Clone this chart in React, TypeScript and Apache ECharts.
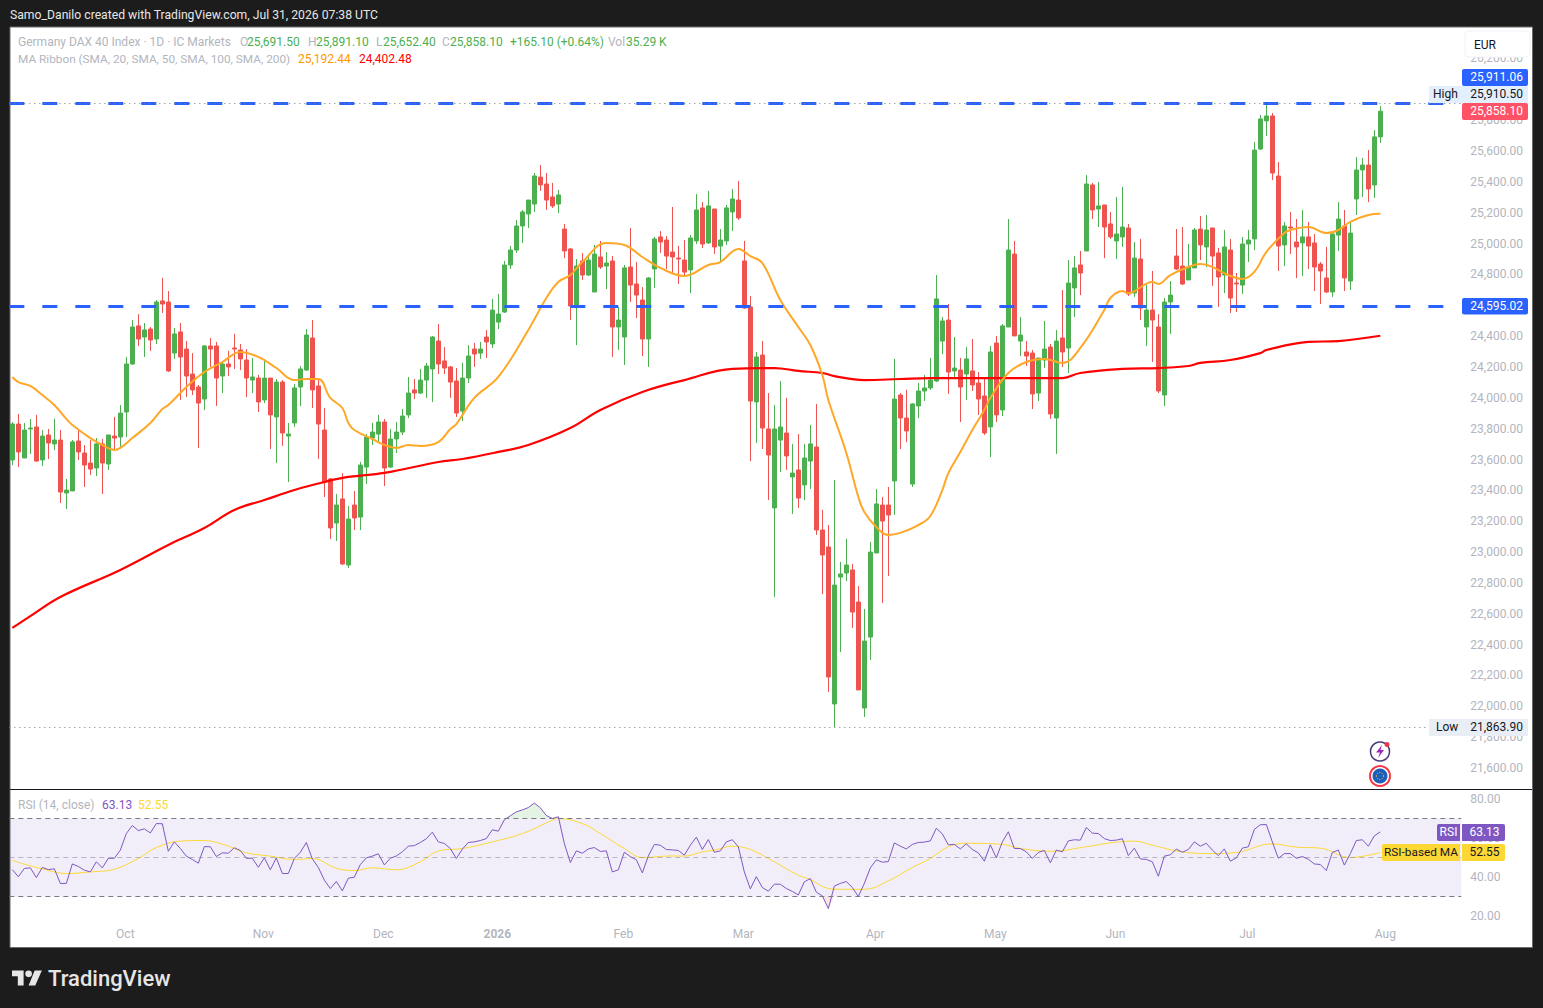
import React, { useEffect, useRef } from "react";
import * as echarts from "echarts";

const opens = [
  23597,23830,23610,23798,23811,23597,23759,23701,23726,23383,
  23396,23720,23642,23577,23545,23701,23571,23752,23746,23908,
  24219,24466,24394,24446,24381,24628,24621,24290,24427,24316,
  24154,24070,23992,24336,24336,24141,24219,24323,24310,24245,
  24115,24128,23986,24128,23876,24102,23752,23837,24070,24180,
  24388,24077,23791,23474,23188,23344,22916,23305,23227,23551,
  23739,23765,23843,23551,23733,23778,23889,24051,24031,24115,
  24187,24368,24239,24200,24109,23914,24128,24316,24290,24394,
  24349,24491,24556,24861,24958,25114,25192,25256,25431,25386,
  25302,25256,25094,24965,24595,24887,24796,24686,24913,24854,
  24887,24459,24394,24848,24738,24634,24381,24835,25043,25023,
  24945,24906,24893,24829,25017,25231,25004,25224,24984,25017,
  25205,25282,24887,24589,23973,24277,23798,23286,23726,23772,
  23487,23532,23435,23590,23681,23143,23033,22015,22838,22864,
  22884,22676,21989,22449,22994,23305,23305,23461,24018,23869,
  23441,23947,24044,24064,24109,24368,24504,24174,24180,24154,
  24174,24096,24012,23811,24355,23921,24459,24932,24368,24297,
  24290,24031,24245,24329,23869,24388,24323,24712,24861,24952,
  25380,25224,25250,25127,25017,25043,25101,24679,24900,24459,
  24569,24459,24018,24621,24919,24854,24764,24842,25094,24978,
  25101,24939,24796,24958,24744,24731,24997,25030,25613,25795,
  25827,25438,24991,25107,25010,25004,25043,25004,24867,24777,
  24686,25055,25114,24757,25289,25477,25509,25380,25691.5,
];
const closes = [
  23830,23649,23791,23804,23590,23752,23707,23726,23389,23402,
  23714,23649,23564,23538,23701,23577,23759,23739,23901,24219,
  24459,24381,24440,24375,24621,24608,24174,24414,24265,24141,
  24051,23966,24336,24316,24128,24219,24200,24316,24252,24128,
  24135,23973,24128,23889,24102,23772,23765,24064,24187,24407,
  24051,23830,23454,23156,23305,22923,23214,23221,23564,23746,
  23778,23843,23545,23733,23778,23882,24031,24031,24115,24206,
  24394,24219,24193,24102,23901,24128,24271,24284,24316,24362,
  24569,24543,24861,24958,25114,25205,25282,25438,25380,25282,
  25244,25315,24952,24595,24854,24796,24893,24932,24848,24874,
  24459,24504,24842,24731,24666,24381,24777,25030,25010,24919,
  24913,24900,24815,25036,25218,24997,25244,24978,25023,25231,
  25289,25166,24582,23979,24265,23804,23629,23798,23811,23623,
  23512,23350,23610,23701,23143,22981,22190,22786,22858,22916,
  22611,22106,22423,23000,23312,23201,23240,23992,23869,23785,
  23960,24044,24064,24115,24641,24498,24167,24193,24070,24252,
  24083,23992,23772,24297,23889,24466,24958,24401,24407,24271,
  24025,24258,24316,23895,24368,24297,24744,24842,24809,25386,
  25218,25244,25107,25043,25062,25107,24673,24906,24582,24569,
  24504,24044,24621,24666,24835,24738,24848,25088,24991,25088,
  24919,24783,24978,24647,24738,24997,25023,25606,25808,25827,
  25457,24984,25114,25101,24978,25043,24984,24848,24822,24686,
  25062,25159,24777,25068,25477,25509,25354,25691.5,25858.1,
];
const highs = [
  23843,23895,23837,23863,23889,23791,23798,23863,23791,23474,
  23726,23791,23694,23726,23739,23733,23759,23876,23953,24265,
  24504,24543,24485,24459,24634,24777,24692,24453,24485,24368,
  24290,24083,24342,24388,24362,24232,24304,24414,24349,24316,
  24258,24148,24252,24128,24122,24115,23837,24089,24206,24446,
  24504,24122,23934,23480,23376,23512,23299,23396,23584,23765,
  23837,23889,23863,23798,23843,23927,24135,24122,24187,24226,
  24401,24478,24329,24206,24193,24226,24342,24355,24362,24440,
  24641,24673,24887,24984,25153,25218,25282,25457,25509,25457,
  25393,25347,25127,24971,24900,24939,24932,24991,25017,24945,
  24919,24589,24861,25101,24880,24718,24783,25043,25081,25049,
  25237,24984,25023,25055,25321,25269,25341,25224,25094,25250,
  25354,25406,25017,24660,24297,24368,24031,23953,24109,23999,
  23701,23765,23701,23824,23960,23273,23175,23467,22936,23085,
  22923,22780,22631,23065,23409,23357,23422,24252,24031,24051,
  23966,24096,24148,24258,24796,24524,24608,24394,24258,24329,
  24381,24167,24128,24336,24401,24478,25159,25017,24524,24368,
  24310,24258,24498,24349,24440,24699,24893,24919,24952,25444,
  25393,25399,25250,25205,25302,25367,25127,25010,25030,24744,
  24822,24543,24647,24757,25094,25107,24997,25101,25179,25185,
  25101,24971,25088,25030,24809,25043,25088,25658,25833,25910.5,
  25846,25529,25140,25205,25159,25218,25140,25062,24880,24978,
  25068,25269,25218,25140,25561,25555,25606,25736,25891.1,
];
const lows = [
  23564,23551,23610,23636,23584,23558,23603,23662,23318,23279,
  23396,23597,23422,23500,23493,23376,23532,23662,23675,23746,
  24213,24336,24265,24304,24349,24550,24167,24252,23986,24005,
  24018,23675,23921,24200,23947,24031,24141,24187,24180,24005,
  24031,23908,23966,23668,23577,23688,23454,23811,23947,24174,
  23934,23603,23357,23085,23072,22916,22897,23143,23143,23441,
  23694,23713,23428,23545,23642,23759,23869,23992,24025,23999,
  23973,24154,24154,23999,23876,23850,24096,24200,24252,24258,
  24323,24446,24550,24835,24939,25004,25101,25205,25341,25218,
  25231,25198,24906,24504,24342,24764,24790,24686,24835,24705,
  24265,24310,24213,24621,24517,24271,24200,24712,24939,24835,
  24809,24738,24790,24679,24997,24971,24997,24932,24874,24991,
  25081,25153,24576,23590,23707,23668,23337,22709,23519,23532,
  23247,23286,23337,23409,23111,22728,22093,21863.9,22352,22812,
  22508,22106,21931,22300,22994,22670,22845,23240,23668,23713,
  23422,23869,23979,24051,24102,24284,24025,24128,23843,23986,
  24044,23889,23759,23616,23843,23882,24459,24401,24271,24206,
  23927,23979,24193,23863,23636,24200,24161,24524,24666,24952,
  25159,25107,24906,25030,24900,24978,24660,24654,24504,24336,
  24232,24031,23947,24414,24829,24731,24764,24842,24893,24848,
  24725,24589,24679,24550,24556,24673,24880,24958,25606,25697,
  25412,24822,24854,24932,24777,24790,24835,24692,24608,24679,
  24654,24952,24692,24699,25185,25302,25269,25295,25652.4,
];
const rsiValues = [
  43.8,40.1,44.4,44.7,39.7,44.9,43.8,44.2,36.7,36.7,
  46.7,45.4,43.5,42.6,47.8,44.7,49.6,49.6,53.8,62.3,
  66.4,63.8,64.7,62.6,67.4,67.3,53.2,58.0,54.6,50.7,
  49.0,47.1,55.6,55.5,50.5,52.4,52.2,55.0,53.6,49.6,
  49.6,45.0,49.8,43.7,49.8,41.8,41.8,49.5,52.7,57.7,
  49.3,44.9,38.4,34.1,37.7,32.9,39.4,39.9,46.4,49.8,
  50.7,51.9,46.2,49.6,50.8,52.9,55.8,56.1,57.7,59.6,
  63.0,58.0,57.2,54.6,49.5,54.3,57.7,58.0,58.7,59.7,
  64.2,63.5,69.3,71.4,73.4,74.4,75.6,77.9,75.5,71.5,
  70,70.9,57.2,47.4,53.4,52.2,54.4,55.1,53.1,53.4,
  42.6,43.7,52.7,50.5,48.8,42.1,50.8,56.7,56.3,54.1,
  53.9,53.6,51.2,56.3,60.4,
  54.1,59.2,52.7,53.4,58.0,59.1,55.5,42.6,33.9,40.2,
  34.6,32.7,36.3,36.3,34.1,32.6,30.8,37.5,39.2,32.2,
  30.3,23.8,35.3,36.7,37.7,34.6,30,36.7,44.7,48.8,
  47.6,47.9,57.5,55.8,54.4,56.7,57.7,57.9,58.5,65,
  62.1,56.5,56.7,54.4,57,54.1,52.4,48.1,56.5,49.8,
  58,63.2,54.6,54.6,52.9,49.5,52.6,53.6,47.3,53.8,
  52.9,58.5,59.1,58.9,65.4,62.5,62.3,59.7,58.7,58.9,
  59.6,51,54.8,49.3,49,47.8,40.4,50.7,51.4,54.3,
  52.7,54.1,58,55.8,57.3,53.8,51,54.4,48.1,49.8,
  54.8,55.5,64.4,66.8,66.9,58,49.6,52,52,49.6,
  50.5,49.1,46.7,46.4,43.3,52.6,53.8,46.1,52,58.7,
  59.1,55.8,61.1,63.13,
];
// [bar index, value] read at the line's turning points
const sma20Points = [
  [0,24135],[1,24102],[3,24077],[5,24018],[7,23953],[9,23863],[10,23824],[13,23739],[15,23694],[17,23662],
  [18,23675],[20,23739],[23,23837],[25,23927],[26,23953],[28,24031],[29,24070],[32,24167],[35,24232],[38,24297],
  [41,24265],[44,24193],[47,24115],[49,24122],[51,24122],[53,23999],[55,23934],[56,23837],[57,23791],[60,23733],
  [62,23694],[64,23675],[66,23694],[68,23688],[71,23713],[73,23798],[74,23830],[77,23999],[81,24135],[86,24440],
  [89,24647],[91,24751],[93,24796],[95,24880],[99,25004],[102,24991],[105,24913],[108,24842],[112,24790],[116,24861],
  [118,24880],[121,24965],[123,24919],[125,24874],[128,24634],[131,24459],[133,24342],[135,24148],[136,23986],[139,23642],
  [141,23357],[142,23260],[144,23162],[146,23111],[148,23124],[151,23175],[153,23234],[155,23402],[156,23512],[158,23649],
  [160,23791],[162,23921],[163,23999],[166,24161],[169,24232],[172,24252],[175,24226],[178,24323],[182,24569],[183,24647],
  [185,24692],[186,24679],[190,24751],[191,24738],[193,24796],[196,24848],[198,24867],[203,24790],[205,24770],[207,24816],
  [209,24945],[212,25068],[213,25088],[216,25107],[219,25068],[221,25088],[223,25140],[226,25185],[228,25192.44],
];
const sma200Points = [
  [0,22508],[3,22585],[8,22709],[18,22884],[26,23046],[32,23156],[37,23273],[42,23337],[47,23402],[52,23454],
  [56,23487],[62,23513],[71,23584],[75,23603],[81,23649],[86,23694],[93,23804],[98,23921],[105,24038],[112,24115],
  [120,24187],[127,24193],[131,24174],[135,24161],[137,24141],[142,24115],[148,24122],[153,24128],[164,24128],[175,24128],
  [178,24161],[185,24187],[191,24193],[196,24206],[198,24226],[203,24245],[208,24290],[209,24310],[216,24362],[221,24368],
  [228,24402.48],
];
const rsiMaPoints = [
  [0,48.6],[2,46.6],[5,44.2],[9,41.8],[13,42.6],[17,44.0],[21,49.5],[24,55.1],[28,58.4],[32,58.7],
  [36,55.8],[39,52.4],[43,50.7],[47,49],[50,49.5],[54,44.5],[57,43.3],[60,44.7],[64,43.7],[68,47.8],
  [71,53.4],[75,54.6],[80,58],[85,62.3],[90,69.1],[91,70],[95,67.4],[98,62.3],[102,54.6],[105,50],
  [110,50.8],[112,50.7],[115,52.9],[117,53.8],[120,55.8],[123,54.1],[126,49.5],[131,40.9],[133,38.7],[136,34.1],
  [138,33.7],[142,33.7],[146,38],[150,44.9],[153,49.5],[156,55.5],[159,57.3],[165,56.7],[168,54.6],[173,53.2],
  [179,55.5],[183,57.5],[187,58.4],[190,56.3],[195,52.9],[200,52],[204,52.6],[210,57],[214,55.3],[218,54.8],
  [223,50],[228,52.55],
];
const monthTicks: Record<number, string> = {
  19: "Oct", 42: "Nov", 62: "Dec", 81: "2026", 102: "Feb", 122: "Mar",
  144: "Apr", 164: "May", 184: "Jun", 206: "Jul", 229: "Aug",
};
const barSlots = 242;
const categories = Array.from({ length: barSlots }, (_, i) => String(i));
const highLine = 25910.5;
const lowLine = 21863.9;
const blueLines = [25911.06, 24595.02];

const FONT = "Roboto, sans-serif";
const GREY = "#b2b5be";
const GREEN = "#4caf50";
const RED = "#ef5350";
const ORANGE = "#ff9800";
const PURPLE = "#7e57c2";
const YELLOW = "#fdd835";

function txt(text: string, x: number, y: number, fill: string, extra: any = {}) {
  return {
    type: "text", x, y, z: 101, silent: true,
    style: { text, fill, font: `${extra.weight || "normal"} ${extra.size || 12}px ${FONT}`, align: extra.align || "left", verticalAlign: "middle" },
  };
}
function box(x: number, y: number, w: number, h: number, fill: string, r: number | number[] = 0, z = 100) {
  return { type: "rect", z, silent: true, shape: { x, y, width: w, height: h, r }, style: { fill } };
}

function buildOption() {
  const candle = opens.map((o, i) => [o, closes[i], lows[i], highs[i]]);
  const over = rsiValues.map((v) => Math.max(v, 70));
  const under = rsiValues.map((v) => Math.min(v, 30));
  const graphic: any[] = [
    // page surfaces
    { type: "rect", z: -2, silent: true, shape: { x: 10, y: 27, width: 1522.5, height: 920.5 }, style: { fill: "#ffffff", stroke: "#6b6b6b", lineWidth: 1 } },
    { type: "line", z: 99, silent: true, shape: { x1: 10, y1: 789.5, x2: 1532, y2: 789.5 }, style: { stroke: "#131722", lineWidth: 1 } },
    // header
    txt("Samo_Danilo created with TradingView.com, Jul 31, 2026 07:38 UTC", 10, 14.5, "#e6e6e6", { size: 12.2 }),
    // legend
    txt("Germany DAX 40 Index · 1D · IC Markets", 18, 42, GREY),
    txt("O", 240, 42, GREY), txt("25,691.50", 247, 42, GREEN),
    txt("H", 308, 42, GREY), txt("25,891.10", 316, 42, GREEN),
    txt("L", 376, 42, GREY), txt("25,652.40", 383, 42, GREEN),
    txt("C", 442, 42, GREY), txt("25,858.10", 450, 42, GREEN),
    txt("+165.10 (+0.64%)", 510, 42, GREEN),
    txt("Vol", 608, 42, GREY), txt("35.29 K", 626, 42, GREEN),
    txt("MA Ribbon (SMA, 20, SMA, 50, SMA, 100, SMA, 200)", 18, 59, GREY, { size: 11.8 }),
    txt("25,192.44", 298, 59, ORANGE), txt("24,402.48", 359, 59, "#ff0000"),
    txt("RSI (14, close)", 18, 805, GREY), txt("63.13", 102, 805, PURPLE), txt("52.55", 138, 805, YELLOW),
    // EUR button
    { type: "rect", z: 100, silent: true, shape: { x: 1465, y: 31, width: 65, height: 26, r: 4 }, style: { fill: "#ffffff", stroke: "#f0f3fa", lineWidth: 1 } },
    txt("EUR", 1474, 45, "#131722"),
    // price tags
    box(1462, 69, 66, 17, "#2962ff", 2), txt("25,911.06", 1496.5, 76.8, "#ffffff", { align: "center" }),
    box(1429, 86, 99, 17, "#e3effd"), txt("High", 1433, 93.8, "#131722"), txt("25,910.50", 1496.5, 93.8, "#131722", { align: "center" }),
    box(1462, 103, 66, 17, "#ff5266", 2), txt("25,858.10", 1496.5, 110.8, "#ffffff", { align: "center" }),
    box(1462, 298, 66, 16.5, "#2962ff", 2), txt("24,595.02", 1496.5, 305.8, "#ffffff", { align: "center" }),
    box(1429, 719, 99, 17, "#e9eef6"), txt("Low", 1436, 726.8, "#131722"), txt("21,863.90", 1496.5, 726.8, "#131722", { align: "center" }),
    // rsi tags
    box(1437, 824, 23, 17, PURPLE, [2, 0, 0, 2]), txt("RSI", 1448.5, 832, "#ffffff", { align: "center" }),
    box(1462, 824, 43, 17, PURPLE, [0, 2, 2, 0]), txt("63.13", 1484.5, 832, "#ffffff", { align: "center" }),
    box(1382, 844, 78, 17, YELLOW, [2, 0, 0, 2]), txt("RSI-based MA", 1421, 852, "#131722", { align: "center", size: 11.8 }),
    box(1462, 844, 43, 17, YELLOW, [0, 2, 2, 0]), txt("52.55", 1484.5, 852, "#131722", { align: "center" }),
    // small icons
    { type: "circle", z: 100, silent: true, shape: { cx: 1380, cy: 751.5, r: 9.5 }, style: { fill: "#ffffff", stroke: "#4a3a78", lineWidth: 1.5 } },
    { type: "polygon", z: 101, silent: true, shape: { points: [[1382, 745], [1376, 752.5], [1380, 752.5], [1378, 758], [1384, 750], [1380.5, 750]] }, style: { fill: "#9c27b0" } },
    { type: "circle", z: 102, silent: true, shape: { cx: 1387, cy: 744.5, r: 2.5 }, style: { fill: "#f23645" } },
    { type: "circle", z: 100, silent: true, shape: { cx: 1380, cy: 776, r: 10 }, style: { fill: "#ffffff", stroke: "#f23645", lineWidth: 2 } },
    { type: "circle", z: 101, silent: true, shape: { cx: 1380, cy: 776, r: 7.5 }, style: { fill: "#1e5fb8" } },
    { type: "circle", z: 102, silent: true, shape: { cx: 1380, cy: 776, r: 3.5 }, style: { fill: "none", stroke: "#ffd54f", lineWidth: 1, lineDash: [1, 1.5] } },
    // watermark
    { type: "tvlogo", z: 101, silent: true, x: 12, y: 964.7, scaleX: 0.83, scaleY: 0.83, style: { fill: "#e6e6e6" } },
    txt("TradingView", 48, 978, "#e6e6e6", { size: 22, weight: "500" }),
  ];
  const hiddenAxisBits = { axisLine: { show: false }, axisTick: { show: false }, splitLine: { show: false } };
  return {
    animation: false,
    backgroundColor: "#1c1c1c",
    textStyle: { fontFamily: FONT },
    graphic,
    grid: [
      { left: 9.33, top: 58.45, width: 6 * barSlots, height: 709.55 },
      { left: 9.33, top: 799, width: 6 * barSlots, height: 117 },
    ],
    xAxis: [
      { type: "category", gridIndex: 0, data: categories, boundaryGap: true, show: false },
      {
        type: "category", gridIndex: 1, data: categories, boundaryGap: true, ...hiddenAxisBits,
        axisLabel: {
          interval: (i: number) => monthTicks[i] !== undefined,
          margin: 12, color: GREY, fontSize: 12, fontFamily: FONT, padding: [0, 2, 0, 0],
          formatter: (v: string) => (monthTicks[+v] === "2026" ? "{b|2026}" : monthTicks[+v] || ""),
          rich: { b: { fontWeight: "bold", color: GREY, fontSize: 12, fontFamily: FONT } },
        },
      },
    ],
    yAxis: [
      {
        type: "value", gridIndex: 0, position: "right", min: 21600, max: 26200, interval: 200, ...hiddenAxisBits,
        axisLabel: {
          margin: 9, color: GREY, fontSize: 12, fontFamily: FONT, padding: [0, 0, 1.5, 0],
          formatter: (v: number) => v.toLocaleString("en-US", { minimumFractionDigits: 2, maximumFractionDigits: 2 }),
        },
      },
      {
        type: "value", gridIndex: 1, position: "right", min: 20, max: 80, interval: 20, ...hiddenAxisBits,
        axisLabel: { margin: 9, color: GREY, fontSize: 12, fontFamily: FONT, formatter: (v: number) => v.toFixed(2) },
      },
    ],
    series: [
      {
        type: "candlestick", xAxisIndex: 0, yAxisIndex: 0, data: candle, barWidth: 4,
        itemStyle: { color: GREEN, color0: RED, borderColor: GREEN, borderColor0: RED, borderWidth: 1 },
        markLine: {
          silent: true, symbol: "none", animation: false, label: { show: false },
          data: [
            ...blueLines.map((v) => ({ yAxis: v, lineStyle: { color: "#2962ff", width: 3, type: [15, 18], opacity: 1 } })),
            { yAxis: highLine, lineStyle: { color: "#787b86", width: 1, type: [1, 4], opacity: 1 } },
            { yAxis: lowLine, lineStyle: { color: "#787b86", width: 1, type: [1, 4], opacity: 1 } },
          ],
        },
      },
      { type: "line", xAxisIndex: 0, yAxisIndex: 0, data: sma200Points, symbol: "none", smooth: 0.4, lineStyle: { color: "#ff0000", width: 2.2 }, z: 4 },
      { type: "line", xAxisIndex: 0, yAxisIndex: 0, data: sma20Points, symbol: "none", smooth: 0.4, lineStyle: { color: "#ffa726", width: 2 }, z: 4 },
      {
        type: "line", xAxisIndex: 1, yAxisIndex: 1, data: over, symbol: "none", z: 2,
        lineStyle: { width: 0 }, areaStyle: { origin: 70, color: "rgba(76,175,80,0.22)" },
        markArea: { silent: true, itemStyle: { color: "rgba(126,87,194,0.1)" }, data: [[{ yAxis: 30 }, { yAxis: 70 }]] },
        markLine: {
          silent: true, symbol: "none", animation: false, label: { show: false },
          data: [
            { yAxis: 70, lineStyle: { color: "#787b86", width: 1, type: [5, 4], opacity: 1 } },
            { yAxis: 50, lineStyle: { color: "rgba(120,123,134,0.5)", width: 1, type: [5, 4], opacity: 1 } },
            { yAxis: 30, lineStyle: { color: "#787b86", width: 1, type: [5, 4], opacity: 1 } },
          ],
        },
      },
      {
        type: "line", xAxisIndex: 1, yAxisIndex: 1, data: under, symbol: "none", z: 2,
        lineStyle: { width: 0 }, areaStyle: { origin: 30, color: "rgba(239,83,80,0.2)" },
      },
      { type: "line", xAxisIndex: 1, yAxisIndex: 1, data: rsiMaPoints, symbol: "none", smooth: 0.4, lineStyle: { color: YELLOW, width: 1 }, z: 3 },
      { type: "line", xAxisIndex: 1, yAxisIndex: 1, data: rsiValues, symbol: "none", lineStyle: { color: PURPLE, width: 1 }, z: 4 },
    ],
  };
}

export default function App() {
  const ref = useRef<HTMLDivElement>(null);
  useEffect(() => {
    document.body.style.margin = "0";
    document.body.style.background = "#1c1c1c";
    echarts.graphic.registerShape(
      "tvlogo",
      echarts.graphic.extendPath("M14 25H7V14H0V7h14v18zM28 25h-8l7.3-18H36l-8 18zM24 11a4 4 0 1 1-8 0a4 4 0 1 1 8 0z", {})
    );
    const chart = echarts.init(ref.current!, undefined, { renderer: "svg" });
    chart.setOption(buildOption() as any);
    return () => chart.dispose();
  }, []);
  return <div ref={ref} style={{ width: 1543, height: 1008 }} />;
}
